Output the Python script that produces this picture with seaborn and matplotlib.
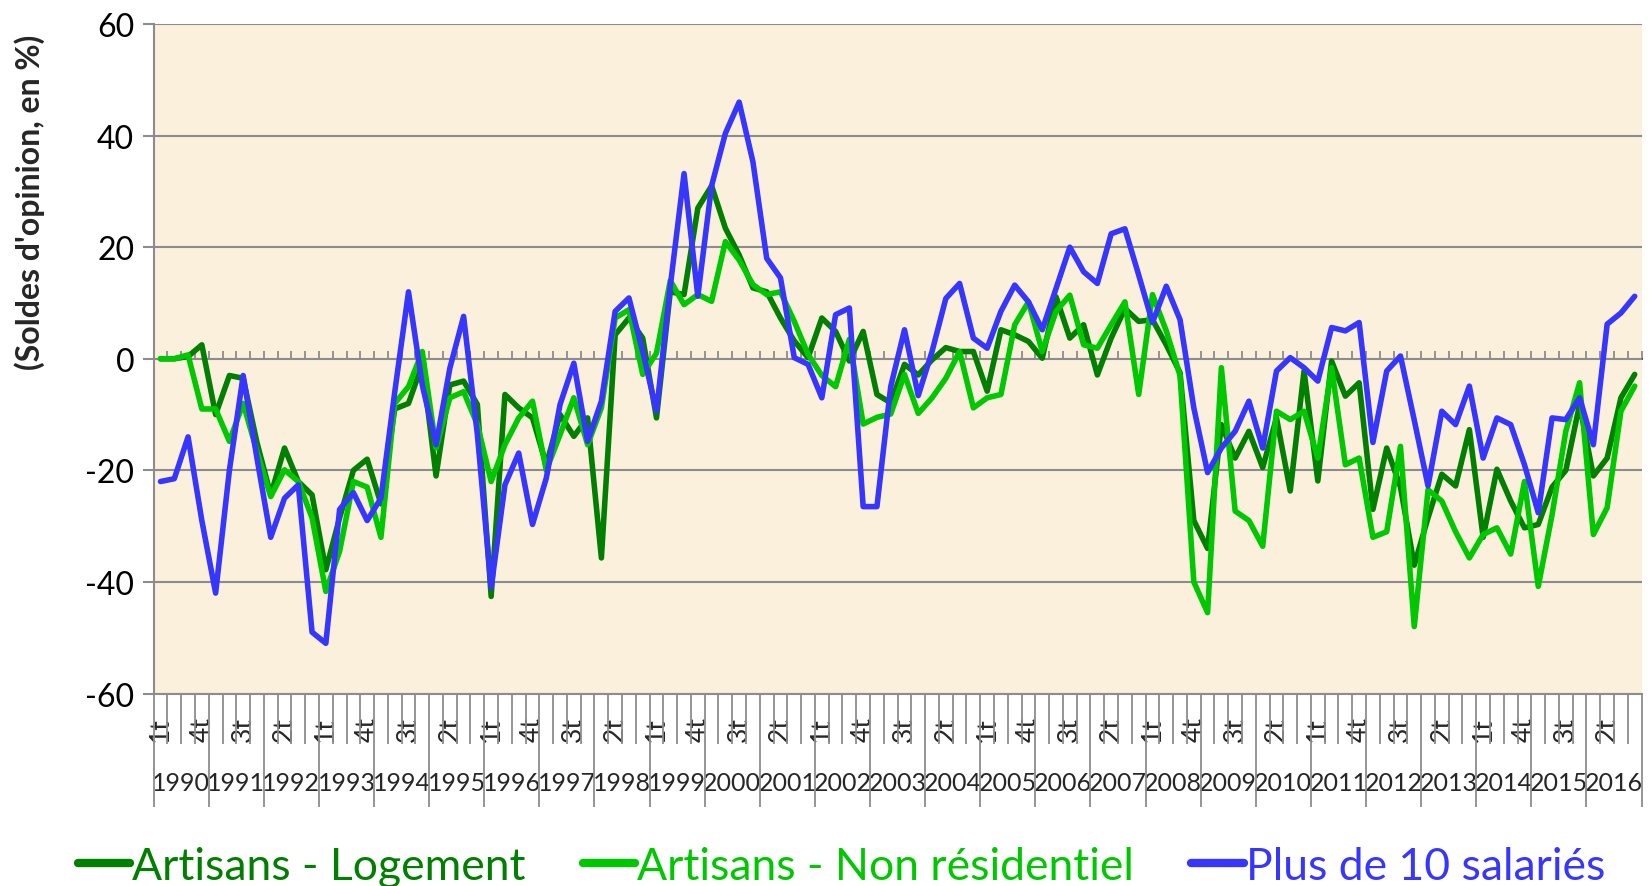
import numpy as np
import pandas as pd
import matplotlib
matplotlib.use("Agg")
import matplotlib.pyplot as plt
import seaborn as sns

# ---------------- data (quarterly, 1990 T1 -> 2016 T4) ----------------
years = list(range(1990, 2017))
quarter_names = ["1t", "2t", "3t", "4t"]
series_names = ["Artisans - Logement", "Artisans - Non résidentiel", "Plus de 10 salariés"]

logement = [
    0, 0, 0.4, 2.5,
    -10, -3, -3.5, -15,
    -24.4, -16, -22, -24.4,
    -37.8, -28.5, -20, -18,
    -26, -9, -8, -1,
    -21, -4.7, -4, -8.2,
    -42.6, -6.4, -8.8, -10.6,
    -19, -10, -13.9, -10.6,
    -35.7, 4.3, 7.3, 3.7,
    -10.6, 12, 11.5, 27,
    31, 23.4, 18.6, 12.7,
    12, 7.3, 3.2, 0.2,
    7.3, 4.9, -0.4, 4.9,
    -6.4, -7.9, -1, -2.9,
    -0.2, 2, 1.3, 1.3,
    -5.8, 5.2, 4.3, 3.1,
    0.1, 11.1, 3.7, 6.1,
    -2.9, 3.7, 9, 6.7,
    7, 2.5, -2.5, -29,
    -34, -11.8, -17.8, -13,
    -19.5, -10.6, -23.7, -2.2,
    -21.9, -0.4, -6.7, -4.3,
    -27, -16, -23, -37,
    -28.5, -20.7, -22.8, -12.7,
    -32, -19.8, -25.5, -30.3,
    -29.7, -23, -20, -8.2,
    -21, -17.8, -7, -2.8,
]

non_residentiel = [
    0, 0, 0.7, -9,
    -9, -14.8, -8, -16.6,
    -24.7, -19.9, -22, -28.5,
    -41.7, -34.5, -22, -23,
    -32, -8, -5, 1.3,
    -16, -7, -5.9, -11.8,
    -22, -15.4, -10.6, -7.6,
    -20, -13.6, -7, -15.4,
    -8.8, 7.3, 8.8, -2.8,
    1, 14, 9.7, 11.5,
    10.3, 21, 17.7, 13.3,
    11.5, 12, 6.7, 0.8,
    -3, -5, 3.5, -11.7,
    -10.5, -9.9, -2.8, -9.8,
    -7, -3.5, 1.3, -8.8,
    -7, -6.4, 6.1, 10.2,
    1.3, 8.5, 11.4, 2.5,
    1.9, 6.1, 10.2, -6.4,
    11.5, 5, -3, -40,
    -45.5, -1.6, -27.3, -29,
    -33.6, -9.4, -10.9, -9.4,
    -17.8, -1.6, -19, -17.8,
    -32, -31, -15.7, -48,
    -23.5, -25.5, -31, -35.7,
    -31.5, -30.3, -35, -22,
    -40.8, -28, -13, -4.3,
    -31.5, -26.7, -9.4, -4.9,
]

plus_10_salaries = [
    -22, -21.5, -14, -29,
    -42, -20, -3, -17.8,
    -32, -25, -22.6, -49,
    -51, -27, -24, -29,
    -25, -6, 12, -4.7,
    -15.4, -1.7, 7.6, -13.6,
    -41, -22.6, -16.9, -29.7,
    -21.4, -8.2, -0.8, -14.8,
    -7.6, 8.5, 10.9, 1.3,
    -9.4, 13, 33.2, 11.2,
    31, 40.4, 46, 35.3,
    18, 14.5, 0.2, -1,
    -7, 7.9, 9.1, -26.5,
    -26.5, -5, 5.2, -6.6,
    1.3, 10.8, 13.5, 3.7,
    1.9, 8.5, 13.2, 10.2,
    5.2, 12.6, 20, 15.6,
    13.5, 22.4, 23.3, 15,
    6.5, 13, 7, -8.8,
    -20.4, -16, -13, -7.6,
    -16, -2.2, 0.2, -1.6,
    -4, 5.6, 5, 6.5,
    -15, -2.2, 0.5, -11,
    -22.8, -9.4, -11.8, -4.9,
    -17.8, -10.6, -11.8, -19,
    -27.6, -10.6, -10.9, -7,
    -15.4, 6.2, 8.2, 11.2,
]

colors = ["#007F00", "#00C800", "#3636FF"]

n = len(logement)
idx = np.arange(n)
df = pd.DataFrame({
    "idx": idx,
    series_names[0]: logement,
    series_names[1]: non_residentiel,
    series_names[2]: plus_10_salaries,
})
long = df.melt(id_vars="idx", var_name="serie", value_name="valeur")

# ---------------- style ----------------
sns.set_theme(style="white")
plt.rcParams["font.family"] = ["Lato", "DejaVu Sans"]
plt.rcParams["axes.unicode_minus"] = False
grey = "#8C8C8C"

fig = plt.figure(figsize=(16.5, 8.87), dpi=100)
ax = fig.add_axes([0.0931, 0.217, 0.9018, 0.7548])
ax.set_facecolor("#FBF0DC")

sns.lineplot(data=long, x="idx", y="valeur", hue="serie", hue_order=series_names,
             palette=colors, linewidth=4.0, ax=ax, legend=False)
for ln in ax.get_lines():
    ln.set_solid_joinstyle("round")
    ln.set_solid_capstyle("round")

ax.set_xlim(-0.5, n - 0.5)
ax.set_ylim(-60, 60)
ax.set_yticks(range(-60, 61, 20))
ax.yaxis.grid(True, color=grey, linewidth=1.5)
ax.xaxis.grid(False)
ax.set_xlabel("")
ax.set_ylabel("(Soldes d'opinion, en %)", fontsize=23, fontweight="bold", va="center")
ax.yaxis.set_label_coords(-0.083, 0.735)

for s in ["top", "right"]:
    ax.spines[s].set_visible(False)
for s in ["left", "bottom"]:
    ax.spines[s].set_color(grey)
    ax.spines[s].set_linewidth(1.5)

ax.tick_params(axis="y", which="major", direction="out", length=8, width=1.5,
               color=grey, labelsize=23, pad=6, labelcolor="black", left=True)

# year boundaries (long) and quarter boundaries (short) below the plot
ax.set_xticks(np.arange(0, n + 1, 4) - 0.5)
ax.set_xticklabels([])
ax.set_xticks(np.arange(0, n + 1) - 0.5, minor=True)
ax.tick_params(axis="x", which="major", direction="out", length=81, width=1.3,
               color=grey, bottom=True)
ax.tick_params(axis="x", which="minor", direction="out", length=36, width=1.3,
               color=grey, bottom=True)

# quarter labels every 3 quarters
sec_q = ax.secondary_xaxis("bottom")
q_pos = list(range(0, n, 3))
sec_q.set_xticks(q_pos, [quarter_names[i % 4] for i in q_pos])
sec_q.tick_params(length=0, pad=16, labelsize=19, labelrotation=90)
sec_q.spines["bottom"].set_visible(False)

# year labels
sec_y = ax.secondary_xaxis("bottom")
y_pos = [4 * k + 1.5 for k in range(len(years))]
sec_y.set_xticks(y_pos, [str(y) for y in years])
sec_y.tick_params(length=0, pad=56, labelsize=18)
sec_y.spines["bottom"].set_visible(False)

# horizontal axis at zero with small tick marks
sec_0 = ax.secondary_xaxis(0.5)
sec_0.set_xticks(np.arange(0, n + 1) - 0.5)
sec_0.set_xticklabels([])
sec_0.tick_params(direction="out", length=6, width=1.3, color=grey)
sec_0.spines["bottom"].set_color(grey)
sec_0.spines["bottom"].set_linewidth(1.5)

# legend
handles = ax.get_lines()[:3]
leg = fig.legend(handles, series_names, loc="center", bbox_to_anchor=(0.51, 0.022),
                 ncol=3, frameon=False, fontsize=32, handlelength=1.18,
                 handletextpad=0.05, columnspacing=1.28)
for txt, c in zip(leg.get_texts(), colors):
    txt.set_color(c)
for lh in leg.get_lines():
    lh.set_linewidth(6)

fig.savefig("out.png", dpi=100)
